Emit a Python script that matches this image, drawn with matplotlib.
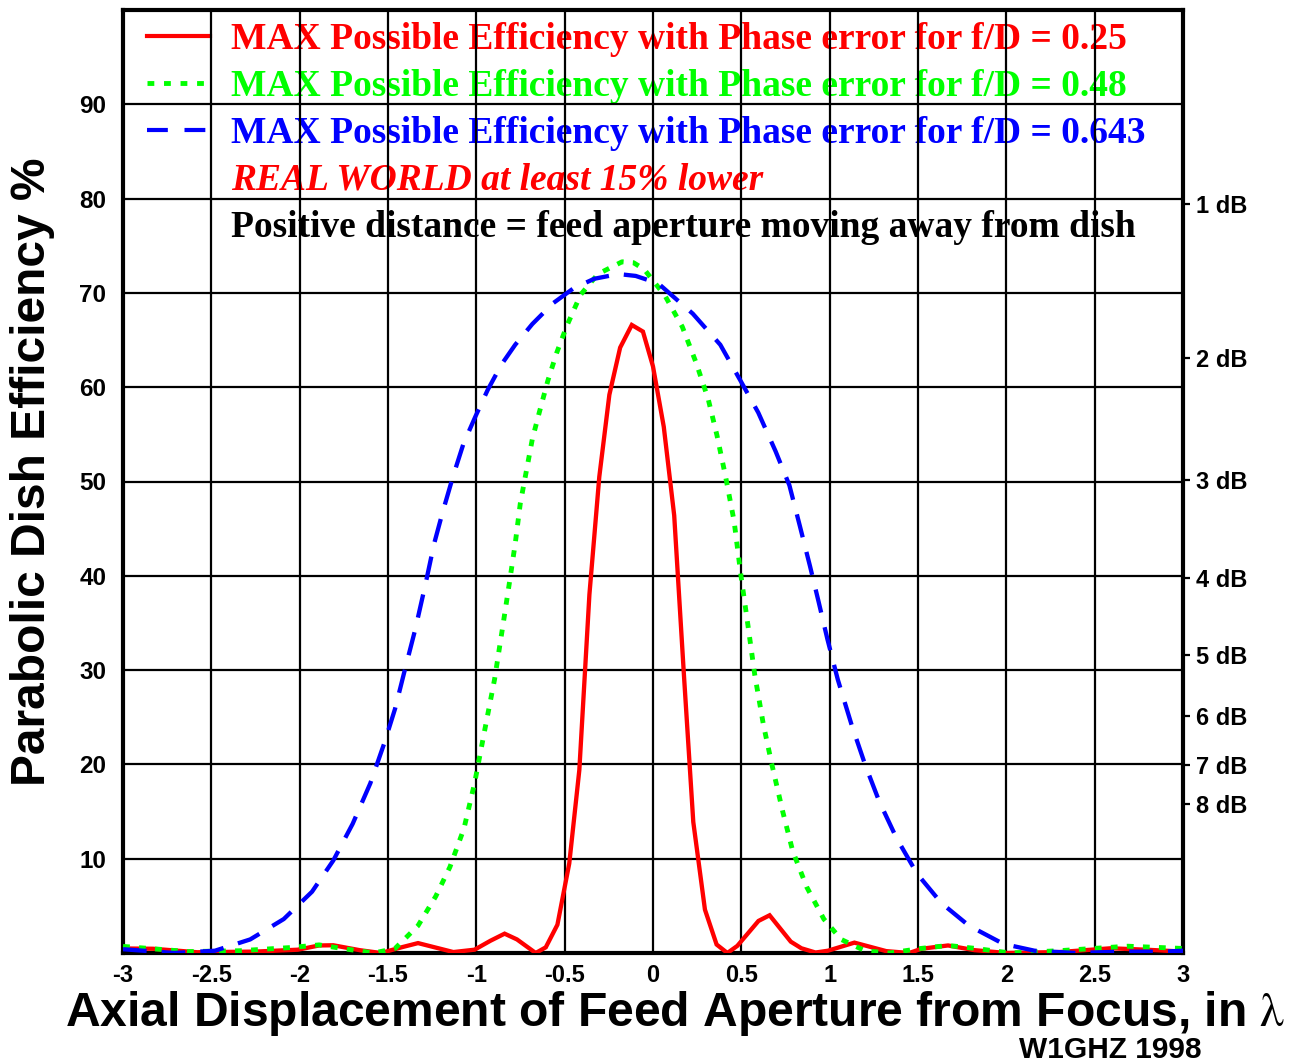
import matplotlib
matplotlib.use("Agg")
import matplotlib.pyplot as plt
from matplotlib.lines import Line2D

plt.rcParams['mathtext.fontset'] = 'stix'

# ---------------- data ----------------
red_x = [-3.0, -2.83, -2.58, -2.25, -2.01, -1.89, -1.81, -1.66, -1.54, -1.42, -1.33, -1.13, -1.01,
         -0.92, -0.84, -0.77, -0.664, -0.607, -0.541, -0.474, -0.417, -0.36, -0.304, -0.247, -0.186,
         -0.12, -0.057, 0.0, 0.061, 0.12, 0.175, 0.228, 0.294, 0.36, 0.421, 0.477, 0.597, 0.66, 0.78,
         0.84, 0.92, 0.99, 1.14, 1.32, 1.45, 1.52, 1.67, 1.82, 2.0, 2.3, 2.59, 2.79, 3.0]
red_y = [0.48, 0.45, 0.08, 0.15, 0.35, 0.8, 0.82, 0.3, 0.0, 0.62, 1.05, 0.1, 0.35,
         1.3, 2.05, 1.44, 0.0, 0.6, 3.0, 9.5, 19.4, 38.0, 50.5, 59.2, 64.2,
         66.6, 65.9, 62.2, 55.8, 46.4, 29.5, 13.9, 4.6, 0.9, 0.0, 0.75, 3.4, 4.0, 1.2,
         0.5, 0.05, 0.24, 1.1, 0.2, 0.0, 0.45, 0.8, 0.3, 0.0, 0.1, 0.5, 0.35, 0.15]

green_x = [-3.0, -2.63, -2.34, -2.05, -1.89, -1.76, -1.58, -1.46, -1.33, -1.23, -1.15, -1.07, -1.01,
           -0.956, -0.897, -0.849, -0.81, -0.78, -0.751, -0.722, -0.683, -0.644, -0.595, -0.546,
           -0.488, -0.41, -0.312, -0.175, -0.11, -0.05, 0.068, 0.166, 0.244, 0.313, 0.362, 0.41,
           0.459, 0.498, 0.537, 0.576, 0.625, 0.674, 0.733, 0.791, 0.87, 0.967, 1.065, 1.2, 1.34,
           1.515, 1.671, 1.827, 2.023, 2.296, 2.492, 2.687, 3.0]
green_y = [0.7, 0.15, 0.24, 0.58, 0.86, 0.48, 0.0, 0.48, 2.9, 6.0, 9.1, 13.2, 18.0,
           23.3, 29.0, 34.8, 39.6, 43.4, 47.7, 50.6, 54.5, 57.3, 60.7, 63.6,
           66.5, 69.8, 72.0, 73.3, 73.2, 72.5, 69.7, 66.4, 62.6, 58.7, 54.9, 50.6,
           45.8, 40.0, 34.8, 29.5, 24.2, 19.9, 15.1, 10.8, 7.0, 3.6, 1.44, 0.24, 0.0,
           0.48, 0.8, 0.48, 0.0, 0.24, 0.48, 0.72, 0.48]

blue_x = [-3.0, -2.71, -2.48, -2.28, -2.09, -1.93, -1.81, -1.70, -1.60, -1.52, -1.46, -1.405, -1.346,
          -1.288, -1.239, -1.19, -1.131, -1.073, -1.005, -0.936, -0.858, -0.78, -0.683, -0.566,
          -0.449, -0.332, -0.195, -0.098, 0.03, 0.225, 0.381, 0.498, 0.596, 0.694, 0.772, 0.831,
          0.889, 0.938, 0.987, 1.046, 1.124, 1.202, 1.28, 1.378, 1.495, 1.632, 1.788, 1.984,
          2.16, 2.394, 2.648, 2.883, 3.0]
blue_y = [0.4, 0.0, 0.24, 1.44, 3.6, 6.5, 9.8, 13.7, 18.0, 22.3, 25.9, 30.0, 34.3,
          39.1, 43.4, 46.8, 50.6, 54.0, 56.9, 59.7, 62.4, 64.5, 66.7, 68.9,
          70.5, 71.5, 72.0, 71.8, 71.0, 67.8, 64.5, 60.6, 57.3, 53.2, 49.6, 45.3,
          41.0, 37.2, 33.3, 29.0, 24.2, 19.9, 16.1, 12.2, 8.4, 5.3, 2.9, 0.96,
          0.24, 0.0, 0.14, 0.14, 0.24]

x_ticks = [-3, -2.5, -2, -1.5, -1, -0.5, 0, 0.5, 1, 1.5, 2, 2.5, 3]
x_tick_labels = ["-3", "-2.5", "-2", "-1.5", "-1", "-0.5", "0", "0.5", "1", "1.5", "2", "2.5", "3"]
y_ticks = [10, 20, 30, 40, 50, 60, 70, 80, 90]
y_tick_labels = ["10", "20", "30", "40", "50", "60", "70", "80", "90"]
db_values = [1, 2, 3, 4, 5, 6, 7, 8]
db_labels = ["1 dB", "2 dB", "3 dB", "4 dB", "5 dB", "6 dB", "7 dB", "8 dB"]

legend_labels = ["MAX Possible Efficiency with Phase error for f/D = 0.25",
                 "MAX Possible Efficiency with Phase error for f/D = 0.48",
                 "MAX Possible Efficiency with Phase error for f/D = 0.643",
                 "REAL WORLD at least 15% lower",
                 "Positive distance = feed aperture moving away from dish"]

RED, GREEN, BLUE = "#ff0000", "#00ff00", "#0000ff"
SANS = "Liberation Sans"
SERIF = "Liberation Serif"

# ---------------- figure ----------------
W, H = 1301, 1064
fig = plt.figure(figsize=(W / 100, H / 100), dpi=100)
L, R, T, B = 123, 1183, 10, 953
ax = fig.add_axes([L / W, 1 - B / H, (R - L) / W, (B - T) / H])
ax.set_xlim(-3, 3)
ax.set_ylim(0, 100)

ax.plot(red_x, red_y, color=RED, lw=3.1, zorder=3, solid_joinstyle='miter')
ax.plot(green_x, green_y, color=GREEN, lw=3.5, ls=(0, (1.4, 1.9)), zorder=3)
ax.plot(blue_x, blue_y, color=BLUE, lw=3.1, ls=(0, (5.5, 3.5)), zorder=3)

ax.set_xticks(x_ticks)
ax.set_xticklabels(x_tick_labels, fontfamily=SANS, fontweight='bold', fontsize=17)
ax.set_yticks(y_ticks)
ax.set_yticklabels(y_tick_labels, fontfamily=SANS, fontweight='bold', fontsize=17.5)
ax.tick_params(axis='both', length=0)
ax.tick_params(axis='x', pad=8)
ax.tick_params(axis='y', pad=12)
ax.set_axisbelow(False)
ax.grid(True, color='black', lw=1.6)
for s in ax.spines.values():
    s.set_linewidth(3)

# right dB axis
ax2 = ax.twinx()
ax2.set_ylim(0, 100)
ax2.set_yticks([100 * 10 ** (-d / 10) for d in db_values])
ax2.set_yticklabels(db_labels, fontfamily=SANS, fontweight='bold', fontsize=17)
ax2.tick_params(axis='y', direction='out', length=5, width=1.6, pad=4)
for s in ax2.spines.values():
    s.set_visible(False)

# legend
handles = [Line2D([], [], color=RED, lw=3),
           Line2D([], [], color=GREEN, lw=3.5, ls=(0, (1.4, 2.0))),
           Line2D([], [], color=BLUE, lw=3, ls=(0, (5, 4))),
           Line2D([], [], color='none'),
           Line2D([], [], color='none')]
leg = ax.legend(handles, legend_labels, loc='upper left',
                bbox_to_anchor=((147 - L) / (R - L), 1 - 12 / (B - T)),
                borderaxespad=0, borderpad=0, frameon=False,
                handlelength=1.68, handletextpad=0.56, labelspacing=0.32,
                prop={'family': SERIF, 'weight': 'bold', 'size': 27})
text_colors = [RED, GREEN, BLUE, RED, "black"]
for t, c in zip(leg.get_texts(), text_colors):
    t.set_color(c)
leg.get_texts()[3].set_fontstyle('italic')
leg.set_zorder(1)

# axis titles
fig.text(33 / W, 1 - 472 / H, "Parabolic Dish Efficiency %", rotation=90,
         ha='center', va='center', fontfamily=SANS, fontweight='bold', fontsize=34.5)
fig.text(675 / W, 1 - 1013 / H, r"Axial Displacement of Feed Aperture from Focus, in $\mathrm{\lambda}$",
         ha='center', va='center', fontfamily=SANS, fontweight='bold', fontsize=34.6)
fig.text(1110 / W, 1 - 1064 / H, "W1GHZ 1998", ha='center', va='bottom',
         fontfamily=SANS, fontweight='bold', fontsize=21.5)

fig.savefig("out.png", dpi=100)
